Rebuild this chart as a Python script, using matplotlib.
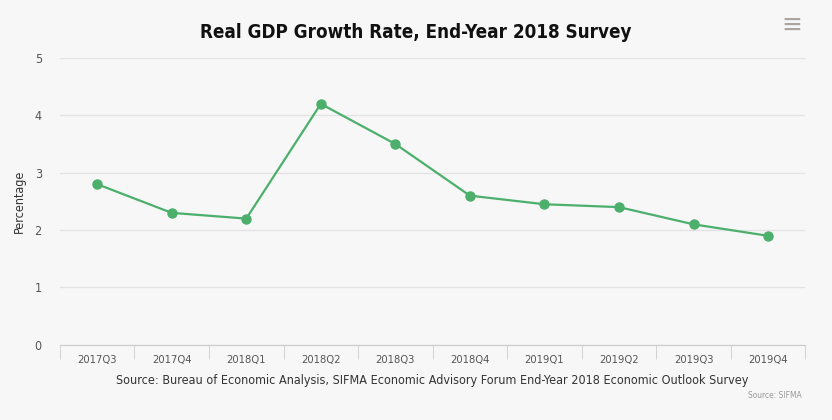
import matplotlib
matplotlib.use("Agg")
import matplotlib.pyplot as plt
import numpy as np

quarters = ["2017Q3", "2017Q4", "2018Q1", "2018Q2", "2018Q3",
            "2018Q4", "2019Q1", "2019Q2", "2019Q3", "2019Q4"]
growth = [2.8, 2.3, 2.2, 4.2, 3.5, 2.6, 2.45, 2.4, 2.1, 1.9]
yticks = [0, 1, 2, 3, 4, 5]

plt.rcParams['font.family'] = ['DejaVu Sans']
plt.rcParams['font.stretch'] = 'condensed'

bg = "#f7f7f7"
fig = plt.figure(figsize=(8.32, 4.2), dpi=100, facecolor=bg)
ax = fig.add_axes([0.072, 0.179, 0.896, 0.683], facecolor=bg)

x = np.arange(len(quarters))
ax.plot(x, growth, color="#4caf6c", linewidth=1.6, marker="o",
        markersize=6.5, zorder=3, clip_on=False)

ax.set_xlim(-0.5, len(quarters) - 0.5)
ax.set_ylim(0, 5)
ax.set_yticks(yticks)
ax.yaxis.grid(True, color="#e3e3e3", linewidth=1)
ax.set_axisbelow(True)

ax.set_xticks(x)
ax.set_xticklabels(quarters, fontsize=8, color="#555555")
ax.set_xticks(np.arange(-0.5, len(quarters)), minor=True)
ax.tick_params(axis="x", which="major", length=0, pad=7)
ax.tick_params(axis="x", which="minor", length=10, color="#cccccc", direction="out")
ax.tick_params(axis="y", length=0, labelsize=9, labelcolor="#555555", pad=13)

for s in ["top", "right", "left"]:
    ax.spines[s].set_visible(False)
ax.spines["bottom"].set_color("#cccccc")

ax.set_ylabel("Percentage", fontsize=9, color="#333333", labelpad=6)
ax.set_xlabel("Source: Bureau of Economic Analysis, SIFMA Economic Advisory Forum End-Year 2018 Economic Outlook Survey",
              fontsize=9, color="#333333", labelpad=7)

fig.text(0.5, 0.922, "Real GDP Growth Rate, End-Year 2018 Survey",
         ha="center", va="center", fontsize=13.5, fontweight="bold", color="#111111")
fig.text(0.964, 0.058, "Source: SIFMA", ha="right", va="center",
         fontsize=6, color="#999999")
fig.text(0.952, 0.94, "≡", ha="center", va="center", fontsize=20, color="#aaa5a0",
         family="DejaVu Sans")

fig.savefig("out.png", dpi=100, facecolor=bg)
